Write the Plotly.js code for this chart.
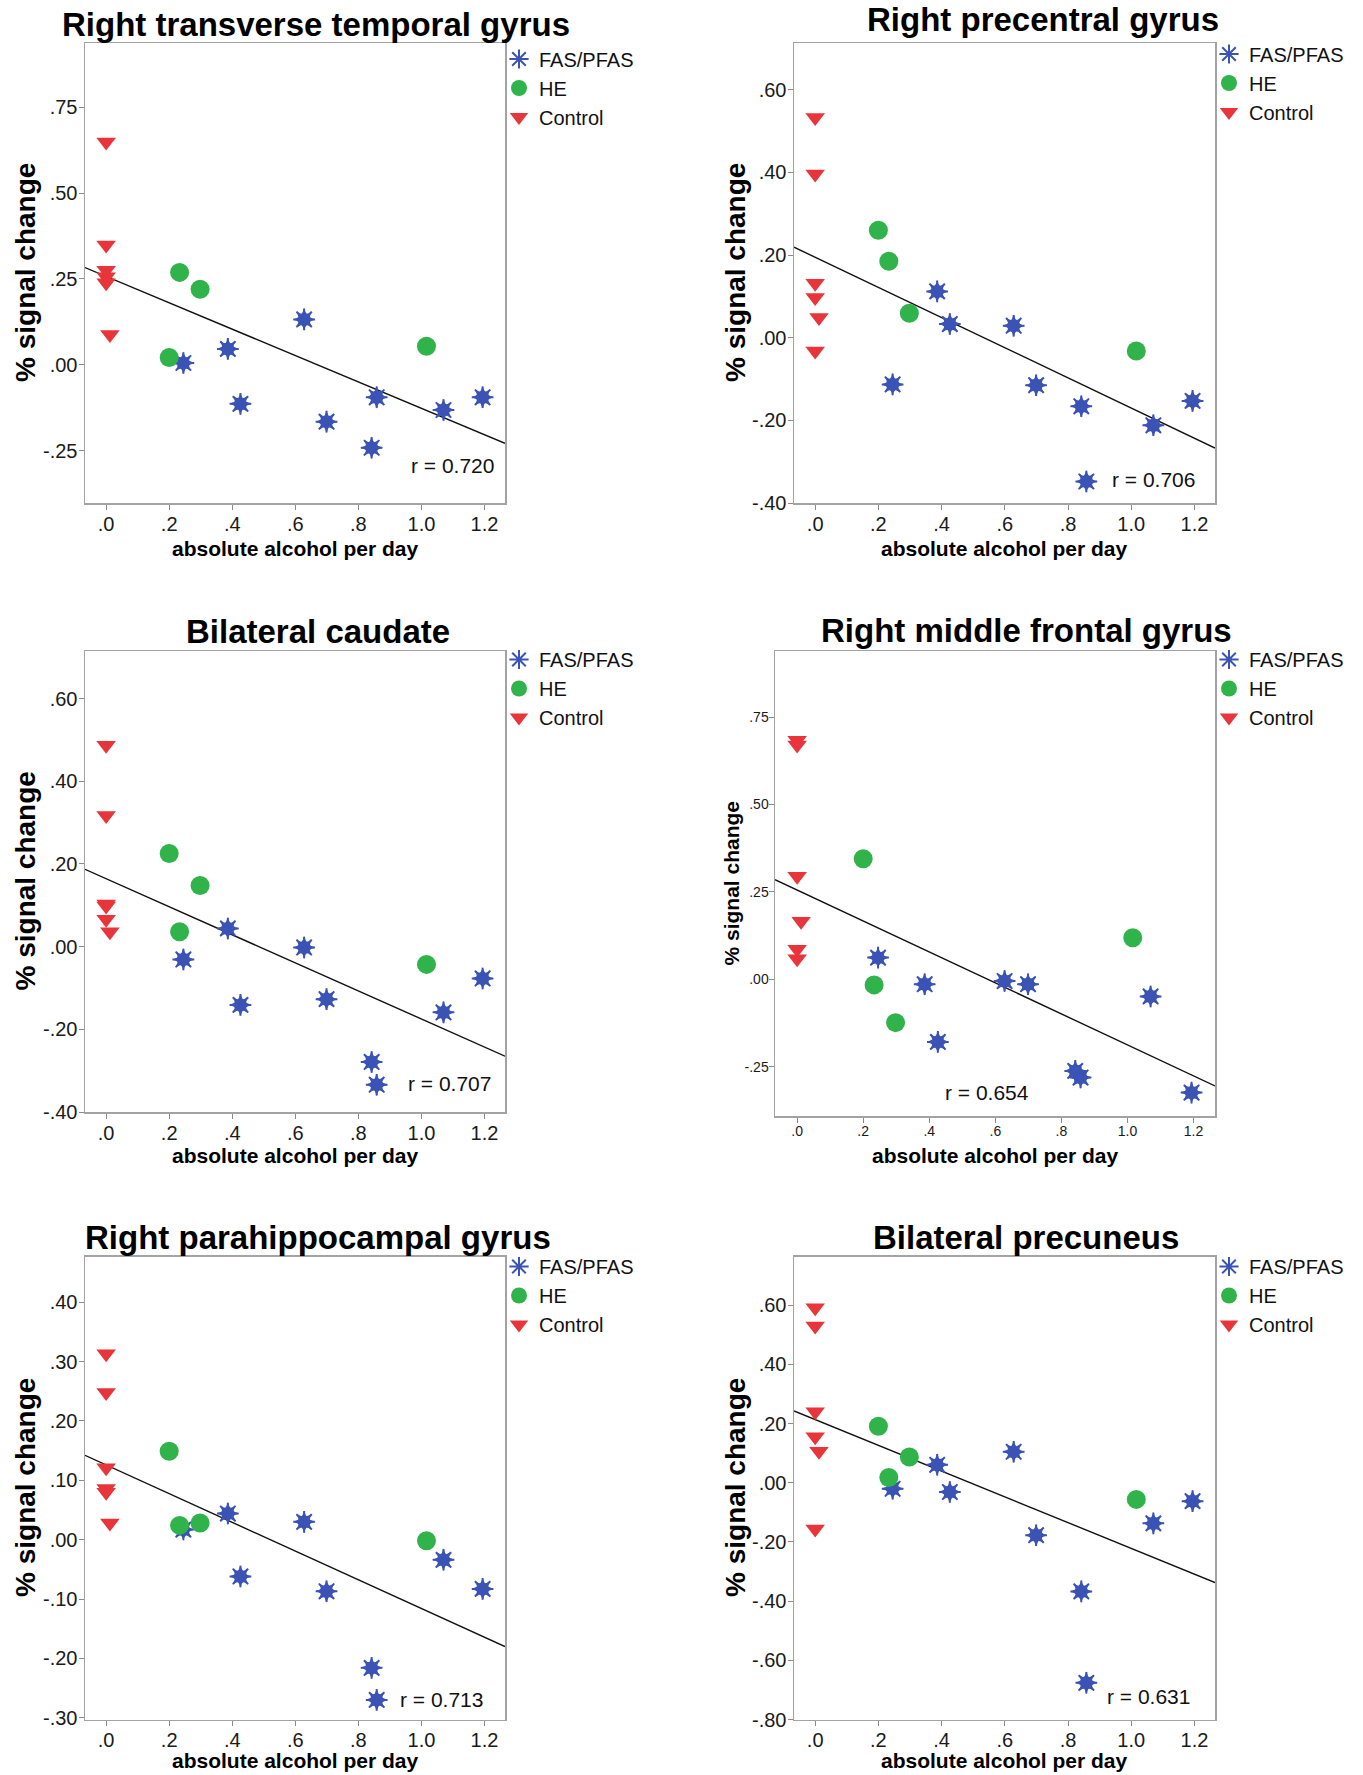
<!DOCTYPE html>
<html>
<head>
<meta charset="utf-8">
<script src="https://cdn.plot.ly/plotly-3.0.1.min.js"></script>
<style>html,body{margin:0;padding:0;background:#fff;}#chart{width:1363px;height:1775px;}</style>
</head>
<body>
<div id="chart"></div>
<script>
// ---------- data ----------
const panelTitles = ["Right transverse temporal gyrus", "Right precentral gyrus", "Bilateral caudate",
  "Right middle frontal gyrus", "Right parahippocampal gyrus", "Bilateral precuneus"];
const groupNames = ["FAS/PFAS", "HE", "Control"];
const xTitle = "absolute alcohol per day";
const yTitle = "% signal change";
const rLabels = ["r = 0.720", "r = 0.706", "r = 0.707", "r = 0.654", "r = 0.713", "r = 0.631"];

// absolute alcohol per day (same subjects in every panel)
const fasX  = [0.245, 0.386, 0.426, 0.628, 0.699, 0.842, 0.858, 1.070, 1.194];
const heX   = [0.200, 0.233, 0.298, 1.016];
const ctrlX = [0, 0, 0, 0, 0, 0.012];

// % signal change per panel
const fasY1  = [0.005, 0.046, -0.114, 0.132, -0.166, -0.242, -0.095, -0.132, -0.095];
const heY1   = [0.021, 0.269, 0.220, 0.054];
const ctrlY1 = [0.649, 0.349, 0.275, 0.256, 0.239, 0.088];

const fasY2  = [-0.113, 0.112, 0.033, 0.029, -0.115, -0.166, -0.348, -0.212, -0.153];
const heY2   = [0.260, 0.185, 0.059, -0.032];
const ctrlY2 = [0.533, 0.396, 0.132, 0.097, -0.032, 0.049];

const fasY3  = [-0.031, 0.044, -0.141, -0.002, -0.127, -0.279, -0.334, -0.159, -0.077];
const heY3   = [0.225, 0.036, 0.148, -0.043];
const ctrlY3 = [0.487, 0.317, 0.103, 0.098, 0.066, 0.036];

const fasY4  = [0.062, -0.014, -0.179, -0.005, -0.014, -0.262, -0.281, -0.049, -0.324];
const heY4   = [0.345, -0.016, -0.124, 0.119];
const ctrlY4 = [0.684, 0.670, 0.295, 0.086, 0.059, 0.166];

const fasY5  = [0.017, 0.044, -0.062, 0.030, -0.087, -0.216, -0.270, -0.034, -0.083];
const heY5   = [0.149, 0.024, 0.028, -0.002];
const ctrlY5 = [0.313, 0.248, 0.121, 0.086, 0.080, 0.028];

const fasY6  = [-0.020, 0.061, -0.031, 0.105, -0.177, -0.367, -0.676, -0.137, -0.062];
const heY6   = [0.191, 0.018, 0.087, -0.056];
const ctrlY6 = [0.592, 0.530, 0.240, 0.156, -0.156, 0.107];

// fitted regression line end points (at the plot edges)
const fitX  = [-0.067, 1.265];
const fitY1 = [0.283, -0.229];
const fitY2 = [0.219, -0.267];
const fitY3 = [0.187, -0.265];
const fitY4 = [0.285, -0.305];
const fitY5 = [0.142, -0.180];
const fitY6 = [0.243, -0.337];

// tick labels
const xTickVals = [0, 0.2, 0.4, 0.6, 0.8, 1.0, 1.2];
const xTickText = [".0", ".2", ".4", ".6", ".8", "1.0", "1.2"];
const yTickVals1 = [0.75, 0.5, 0.25, 0, -0.25];
const yTickText1 = [".75", ".50", ".25", ".00", "-.25"];
const yTickVals2 = [0.6, 0.4, 0.2, 0, -0.2, -0.4];
const yTickText2 = [".60", ".40", ".20", ".00", "-.20", "-.40"];
const yTickVals5 = [0.4, 0.3, 0.2, 0.1, 0, -0.1, -0.2, -0.3];
const yTickText5 = [".40", ".30", ".20", ".10", ".00", "-.10", "-.20", "-.30"];
const yTickVals6 = [0.6, 0.4, 0.2, 0, -0.2, -0.4, -0.6, -0.8];
const yTickText6 = [".60", ".40", ".20", ".00", "-.20", "-.40", "-.60", "-.80"];

// ---------- presentation ----------
const W = 1363, H = 1775;
const FONT = "Liberation Sans, Arial, sans-serif";
const BLUE = "#3b53b5", GREEN = "#2fb34a", RED = "#e8353b";

const panels = [
  {fas: fasY1, he: heY1, ctrl: ctrlY1, fit: fitY1, yr: [-0.403, 0.9375], tv: yTickVals1, tt: yTickText1,
   box: [85, 505, 43, 503], title: [316, 25], ytx: 25, xty: 548, r: [496, 465, "right"], leg: [499, 39.5], small: false},
  {fas: fasY2, he: heY2, ctrl: ctrlY2, fit: fitY2, yr: [-0.40, 0.713], tv: yTickVals2, tt: yTickText2,
   box: [794, 1215, 43, 503], title: [1043, 20], ytx: 735, xty: 548, r: [1197, 480, "right"], leg: [1209, 34.5], small: false},
  {fas: fasY3, he: heY3, ctrl: ctrlY3, fit: fitY3, yr: [-0.40, 0.715], tv: yTickVals2, tt: yTickText2,
   box: [85, 505, 651, 1112], title: [318, 631], ytx: 25, xty: 1155, r: [493, 1083, "right"], leg: [499, 640], small: false},
  {fas: fasY4, he: heY4, ctrl: ctrlY4, fit: fitY4, yr: [-0.391, 0.939], tv: yTickVals1, tt: yTickText1,
   box: [775, 1215, 651, 1116], title: [1026, 630], ytx: 731, xty: 1155, r: [987, 1092, "center"], leg: [1209, 640], small: false ? false : true},
  {fas: fasY5, he: heY5, ctrl: ctrlY5, fit: fitY5, yr: [-0.303, 0.477], tv: yTickVals5, tt: yTickText5,
   box: [85, 505, 1256.5, 1719.5], title: [318, 1237.5], ytx: 25, xty: 1760, r: [485, 1699.5, "right"], leg: [499, 1247], small: false},
  {fas: fasY6, he: heY6, ctrl: ctrlY6, fit: fitY6, yr: [-0.80, 0.765], tv: yTickVals6, tt: yTickText6,
   box: [794, 1215, 1256.5, 1719.5], title: [1026, 1237.5], ytx: 735, xty: 1760, r: [1192, 1696, "right"], leg: [1209, 1247], small: false}
];

const px = x => x / W;
const py = y => 1 - y / H;

const traces = [];
const layout = {
  width: W, height: H,
  margin: {l: 0, r: 0, t: 0, b: 0},
  paper_bgcolor: "#ffffff", plot_bgcolor: "#ffffff",
  font: {family: FONT, color: "#000"},
  annotations: []
};

panels.forEach((p, i) => {
  const n = i === 0 ? "" : String(i + 1);
  const xa = "x" + n, ya = "y" + n, lg = "legend" + n;
  traces.push({x: fitX, y: p.fit, xaxis: xa, yaxis: ya, mode: "lines", type: "scatter",
    line: {color: "#111", width: 1.4}, showlegend: false, hoverinfo: "skip"});
  // FAS/PFAS: eight-pointed star built from two filled four-pointed stars plus an asterisk outline
  traces.push({x: fasX, y: p.fas, xaxis: xa, yaxis: ya, mode: "markers", type: "scatter",
    showlegend: false, hoverinfo: "skip",
    marker: {symbol: "star-diamond", size: 16, color: BLUE, line: {width: 0}}});
  traces.push({x: fasX, y: p.fas, xaxis: xa, yaxis: ya, mode: "markers", type: "scatter",
    showlegend: false, hoverinfo: "skip",
    marker: {symbol: "star-square", size: 14.5, color: BLUE, line: {width: 0}}});
  traces.push({x: fasX, y: p.fas, xaxis: xa, yaxis: ya, mode: "markers", type: "scatter",
    name: groupNames[0], legend: lg,
    marker: {symbol: "asterisk-open", size: 18, color: BLUE, line: {color: BLUE, width: 2}}});
  traces.push({x: heX, y: p.he, xaxis: xa, yaxis: ya, mode: "markers", type: "scatter",
    name: groupNames[1], legend: lg,
    marker: {symbol: "circle", size: 19, color: GREEN, line: {width: 0}}});
  traces.push({x: ctrlX, y: p.ctrl, xaxis: xa, yaxis: ya, mode: "markers", type: "scatter",
    name: groupNames[2], legend: lg,
    marker: {symbol: "triangle-down", size: 17, color: RED, line: {width: 0}}});

  const [L, R, T, B] = p.box;
  const tickSize = p.small ? 14 : 20;
  const axCommon = {
    showline: true, mirror: true, linecolor: "#a3a3a3", linewidth: 1.5,
    ticks: "outside", ticklen: 5, tickwidth: 1, tickcolor: "#8a8a8a",
    showgrid: false, zeroline: false, fixedrange: true, ticklabelstandoff: -3,
    tickfont: {family: FONT, size: tickSize, color: "#1a1a1a"}
  };
  layout["xaxis" + n] = Object.assign({}, axCommon, {
    domain: [px(L), px(R)], range: [-0.067, 1.265], anchor: ya,
    tickmode: "array", tickvals: xTickVals, ticktext: xTickText
  });
  layout["yaxis" + n] = Object.assign({}, axCommon, {
    domain: [py(B), py(T)], range: p.yr, anchor: xa,
    tickmode: "array", tickvals: p.tv, ticktext: p.tt
  });
  layout[lg] = {
    x: px(p.leg[0]), y: py(p.leg[1]), xanchor: "left", yanchor: "top",
    bgcolor: "rgba(0,0,0,0)", borderwidth: 0, tracegroupgap: 0, itemwidth: 30,
    font: {family: FONT, size: 20, color: "#111"}
  };

  // panel title
  layout.annotations.push({text: panelTitles[i], xref: "paper", yref: "paper",
    x: px(p.title[0]), y: py(p.title[1]), xanchor: "center", yanchor: "middle", showarrow: false,
    font: {family: FONT, size: 33, color: "#000", weight: "bold"}});
  // x axis title
  layout.annotations.push({text: xTitle, xref: "paper", yref: "paper",
    x: px((L + R) / 2), y: py(p.xty), xanchor: "center", yanchor: "middle", showarrow: false,
    font: {family: FONT, size: 21, color: "#000", weight: "bold"}});
  // y axis title
  layout.annotations.push({text: yTitle, xref: "paper", yref: "paper", textangle: -90,
    x: px(p.ytx), y: py((T + B) / 2), xanchor: "center", yanchor: "middle", showarrow: false,
    font: {family: FONT, size: p.small ? 21 : 28, color: "#000", weight: "bold"}});
  // correlation label
  layout.annotations.push({text: rLabels[i], xref: "paper", yref: "paper",
    x: px(p.r[0]), y: py(p.r[1]), xanchor: p.r[2], yanchor: "middle", showarrow: false,
    font: {family: FONT, size: 21, color: "#111"}});
});

Plotly.newPlot("chart", traces, layout, {staticPlot: true, displayModeBar: false});
</script>
</body>
</html>
